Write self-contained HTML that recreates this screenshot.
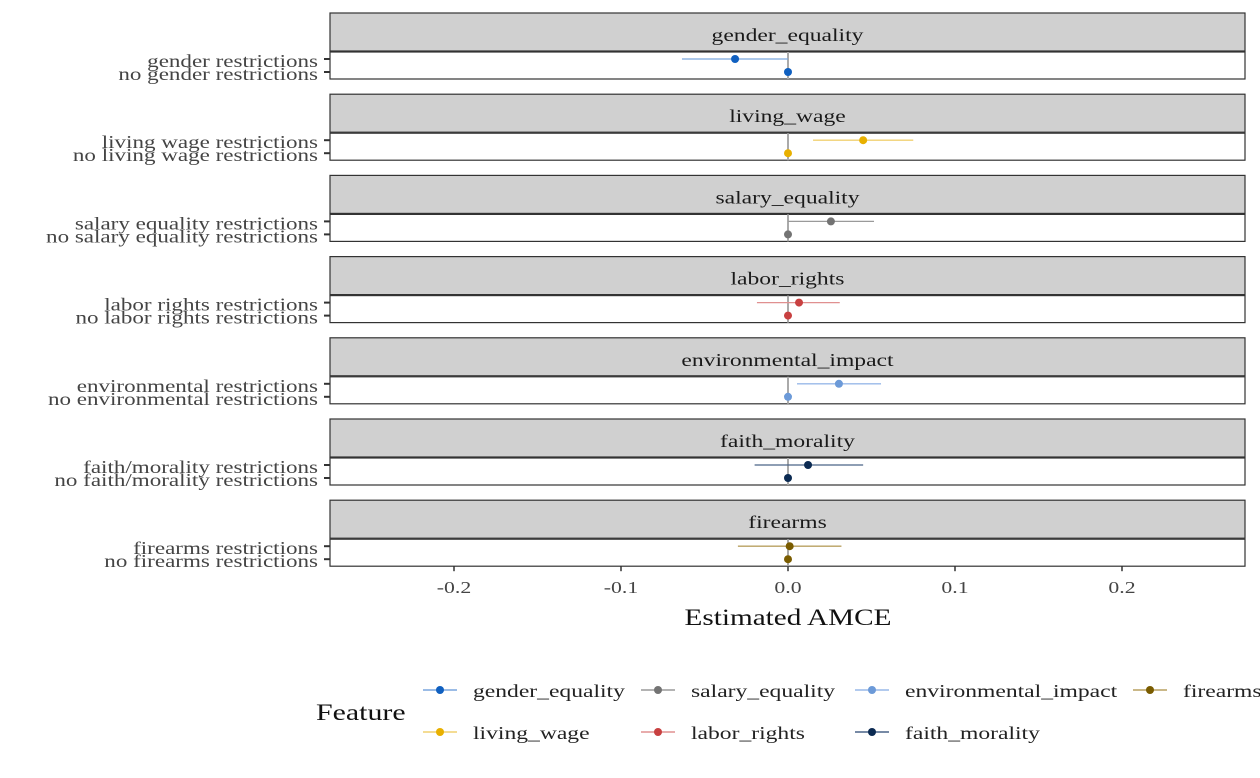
<!DOCTYPE html>
<html><head><meta charset="utf-8"><style>
body{margin:0;background:#fff}
svg{display:block;font-family:"Liberation Serif",serif}
</style></head><body>
<svg id="chart" width="1260" height="778" viewBox="0 0 1260 778"></svg>
<script>
const features=["gender_equality","living_wage","salary_equality","labor_rights","environmental_impact","faith_morality","firearms"];
const levelLabels=[["gender restrictions","no gender restrictions"],["living wage restrictions","no living wage restrictions"],["salary equality restrictions","no salary equality restrictions"],["labor rights restrictions","no labor rights restrictions"],["environmental restrictions","no environmental restrictions"],["faith/morality restrictions","no faith/morality restrictions"],["firearms restrictions","no firearms restrictions"]];
const estimates=[-0.0317,0.045,0.0257,0.0066,0.0305,0.012,0.001];
const lowers=[-0.0635,0.015,0.0,-0.0186,0.0054,-0.020,-0.030];
const uppers=[0.0,0.075,0.0515,0.031,0.0557,0.045,0.032];
const colors=["#1060c0","#e8b000","#737373","#c84040","#6c9ad8","#0b2a52","#7a5c00"];
const lightColors=["#7aa6dd","#f0d070","#9a9a9a","#e09090","#98b8e8","#4a6488","#b8a060"];
const ticks=[-0.2,-0.1,0.0,0.1,0.2];
const tickLabels=["-0.2","-0.1","0.0","0.1","0.2"];

const svg=document.getElementById('chart');
const NS='http://www.w3.org/2000/svg';
function mk(tag,attrs,parent){const e=document.createElementNS(NS,tag);for(const k in attrs)e.setAttribute(k,attrs[k]);(parent||svg).appendChild(e);return e;}
function fit(el,f){const w=el.getComputedTextLength();if(w>0){el.setAttribute('textLength',w*f);el.setAttribute('lengthAdjust','spacingAndGlyphs');}}
const L=330,R=1245;
const x=v=>788+v*1670;
const top0=13,step=81.2;

features.forEach((f,i)=>{
  const t=top0+i*step;
  const g=mk('g',{});
  
  
  const strip=mk('rect',{x:L,y:t,width:R-L,height:38,fill:'#d0d0d0',stroke:'#333','stroke-width':1.2},g);
  
  
  const st=mk('text',{x:(L+R)/2,y:t+28,'text-anchor':'middle','font-size':18,fill:'#1a1a1a'},g);
  st.textContent=f;
  
  
  fit(st,1.31);
  const pt=t+39;
  const panel=mk('rect',{x:L,y:pt,width:R-L,height:27,fill:'#fff',stroke:'#333','stroke-width':1.2},g);
  
  
  mk('line',{x1:x(0),x2:x(0),y1:pt,y2:pt+27,stroke:'#aaa','stroke-width':2},g);
  const y1=pt+7,y2=pt+20;
  [y1,y2].forEach((yy,j)=>{
    mk('line',{x1:L-6,x2:L,y1:yy,y2:yy,stroke:'#333','stroke-width':2},g);
    const lt=mk('text',{x:L-12,y:yy+8,'text-anchor':'end','font-size':18,fill:'#444'},g);
    lt.textContent=levelLabels[i][j];
    
    
    fit(lt,1.28);
  });
  const ci=mk('line',{x1:x(lowers[i]),x2:x(uppers[i]),y1:y1,y2:y1,stroke:lightColors[i],'stroke-width':1.3},g);
  
  
  const p=mk('circle',{cx:x(estimates[i]),cy:y1,r:4,fill:colors[i]},g);
  
  
  const b=mk('circle',{cx:x(0),cy:y2,r:4,fill:colors[i]},g);
  
  
});
const axY=top0+6*step+66;
ticks.forEach((v,i)=>{
  mk('line',{x1:x(v),x2:x(v),y1:axY,y2:axY+5,stroke:'#333','stroke-width':1.5});
  const t=mk('text',{x:x(v),y:axY+27,'text-anchor':'middle','font-size':17,fill:'#444'});
  t.textContent=tickLabels[i];
  
  
  fit(t,1.28);
});
const xt=mk('text',{x:788,y:625,'text-anchor':'middle','font-size':23,fill:'#111'});
xt.textContent='Estimated AMCE';


fit(xt,1.27);
const lt=mk('text',{x:316,y:720,'font-size':23,fill:'#111'});
lt.textContent='Feature';


fit(lt,1.3);
const legCols=[423,641,855,1133];
const order=[0,2,4,6,1,3,5];
const pos=[[0,0],[1,0],[2,0],[3,0],[0,1],[1,1],[2,1]];
order.forEach((fi,k)=>{
  const cx=legCols[pos[k][0]],cy=690+pos[k][1]*42;
  const g=mk('g',{});
  
  
  mk('line',{x1:cx,x2:cx+34,y1:cy,y2:cy,stroke:lightColors[fi],'stroke-width':1.5},g);
  mk('circle',{cx:cx+17,cy:cy,r:4,fill:colors[fi]},g);
  const t=mk('text',{x:cx+50,y:cy+7,'font-size':18,fill:'#222'},g);
  t.textContent=features[fi];
  fit(t,1.31);
});
</script>
</body></html>
